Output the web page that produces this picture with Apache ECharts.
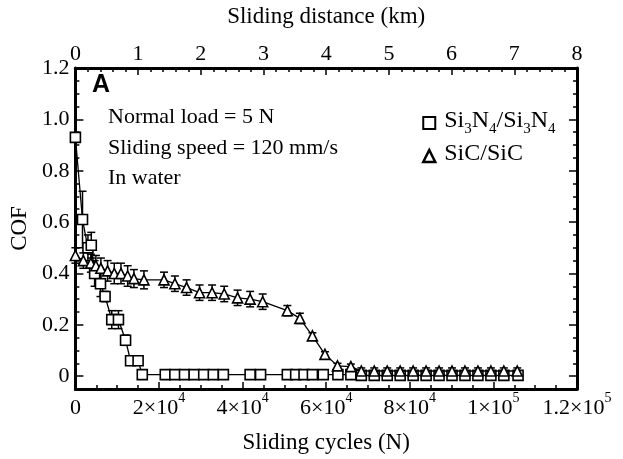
<!DOCTYPE html>
<html><head><meta charset="utf-8">
<script src="https://cdn.jsdelivr.net/npm/echarts@6/dist/echarts.min.js"></script>
<style>html,body{margin:0;padding:0;background:#fff}#c{width:623px;height:459px}</style>
</head><body><div id="c"></div>
<script>
// ---- data ----
const si3n4Cycles = [0, 1700, 3000, 3800, 4600, 6000, 7100, 8700, 10300, 12000, 13200, 15000, 16000,
  21500, 23800, 26100, 28400, 30700, 33000, 35400, 41800, 44300,
  50700, 52700, 54700, 56700, 59300, 62800, 65900,
  68400, 71500, 74600, 77700, 80800, 83900, 87000, 90100, 93200, 96300, 99400, 102500, 105900];
const si3n4Cof = [0.93, 0.61, 0.50, 0.51, 0.40, 0.36, 0.31, 0.22, 0.22, 0.14, 0.06, 0.06, 0.006,
  0.006, 0.006, 0.006, 0.006, 0.006, 0.006, 0.006, 0.006, 0.006,
  0.006, 0.006, 0.006, 0.006, 0.006, 0.006, 0.006,
  0.003, 0.003, 0.003, 0.003, 0.003, 0.003, 0.003, 0.003, 0.003, 0.003, 0.003, 0.003, 0.003];
const si3n4Err = [0.01, 0.11, 0.05, 0.05, 0.05, 0.05, 0.02, 0.035, 0.035, 0.02, 0.012, 0.012, 0.005,
  0, 0, 0, 0, 0, 0, 0, 0, 0,
  0, 0, 0, 0, 0, 0, 0,
  0, 0, 0, 0, 0, 0, 0, 0, 0, 0, 0, 0, 0];

const sicCycles = [0, 1900, 3700, 4900, 6100, 7700, 9300, 10900, 12500, 14000, 16400, 21200,
  23800, 26600, 29700, 32700, 35600, 38800, 41800, 44800, 50700, 53700, 56700, 59700, 62700, 65900,
  68400, 71500, 74600, 77700, 80800, 83900, 87000, 90100, 93200, 96300, 99400, 102500, 105700];
const sicCof = [0.47, 0.45, 0.44, 0.43, 0.42, 0.41, 0.40, 0.40, 0.39, 0.38, 0.375, 0.375,
  0.36, 0.345, 0.325, 0.325, 0.32, 0.305, 0.30, 0.29, 0.255, 0.225, 0.157, 0.085, 0.04, 0.037,
  0.02, 0.02, 0.02, 0.02, 0.02, 0.02, 0.02, 0.02, 0.02, 0.02, 0.02, 0.02, 0.02];
const sicErr = [0.03, 0.03, 0.035, 0.04, 0.04, 0.04, 0.04, 0.04, 0.04, 0.035, 0.035, 0.03,
  0.03, 0.03, 0.03, 0.03, 0.03, 0.03, 0.03, 0.03, 0.02, 0.02, 0.012, 0.01, 0.01, 0.01,
  0.012, 0.012, 0.012, 0.012, 0.012, 0.012, 0.012, 0.012, 0.012, 0.012, 0.012, 0.012, 0.012];

const seriesNames = ['Si3N4/Si3N4', 'SiC/SiC'];
const yTickValues = [0, 0.2, 0.4, 0.6, 0.8, 1.0, 1.2];
const yTickLabels = ['0', '0.2', '0.4', '0.6', '0.8', '1.0', '1.2'];
const xTickValues = [0, 20000, 40000, 60000, 80000, 100000, 120000];
const xTickMant = ['0', '2×10', '4×10', '6×10', '8×10', '1×10', '1.2×10'];
const xTickExp = ['', '4', '4', '4', '4', '5', '5'];
const kmTickLabels = ['0', '1', '2', '3', '4', '5', '6', '7', '8'];
const annotations = ['Normal load = 5 N', 'Sliding speed = 120 mm/s', 'In water'];

// ---- chart ----
const SERIF = '"Liberation Serif", "Times New Roman", serif';
const FS = 22;
const pairs = (xs, ys) => xs.map((x, i) => [x, ys[i]]);
const errRows = (xs, ys, es) => xs.map((x, i) => [x, ys[i] - es[i], ys[i] + es[i], es[i]]);

function renderErr(params, api) {
  if (api.value(3) <= 0) return null;
  const x = api.value(0);
  const lo = api.coord([x, api.value(1)]);
  const hi = api.coord([x, api.value(2)]);
  const cw = 4;
  const style = { stroke: '#000', lineWidth: 1.5 };
  return { type: 'group', children: [
    { type: 'line', shape: { x1: lo[0], y1: lo[1], x2: hi[0], y2: hi[1] }, style },
    { type: 'line', shape: { x1: lo[0] - cw, y1: lo[1], x2: lo[0] + cw, y2: lo[1] }, style },
    { type: 'line', shape: { x1: hi[0] - cw, y1: hi[1], x2: hi[0] + cw, y2: hi[1] }, style }
  ]};
}

const axisLine = { show: true, onZero: false, lineStyle: { color: '#000', width: 3 } };
const noLine = { show: false, onZero: false };
const tickStyle = { color: '#000', width: 1.5 };
const isMultiple = (v, step) => Math.abs(v / step - Math.round(v / step)) < 1e-6;

function subText(name) {
  return '{g|}' + name.split(/(\d)/).filter(p => p).map(p => /^\d$/.test(p) ? '{s|' + p + '}' : '{t|' + p + '}').join('');
}

const chart = echarts.init(document.getElementById('c'));
chart.setOption({
  animation: false,
  backgroundColor: '#fff',
  grid: { left: 72, right: 46, top: 65, bottom: 61 },
  xAxis: [
    {
      type: 'value', position: 'bottom', min: 0, max: 120000, interval: 20000,
      axisLine: axisLine,
      axisTick: { show: true, inside: true, length: 7, lineStyle: tickStyle },
      minorTick: { show: true, splitNumber: 4, length: 4, lineStyle: tickStyle },
      splitLine: { show: false },
      axisLabel: {
        margin: 2,
        formatter: v => {
          const i = xTickValues.findIndex(t => Math.abs(t - v) < 1);
          if (i < 0) return '';
          return '{b|' + xTickMant[i] + '}' + (xTickExp[i] ? '{s|' + xTickExp[i] + '}' : '');
        },
        rich: {
          b: { fontFamily: SERIF, fontSize: FS, color: '#000', lineHeight: 28, verticalAlign: 'bottom' },
          s: { fontFamily: SERIF, fontSize: 14, color: '#000', verticalAlign: 'top', lineHeight: 14 }
        }
      },
      name: 'Sliding cycles (N)', nameLocation: 'middle', nameGap: 42,
      nameTextStyle: { fontFamily: SERIF, fontSize: 23, color: '#000' }
    },
    {
      type: 'value', position: 'top', min: 0, max: 8, interval: 1,
      axisLine: axisLine,
      axisTick: { show: true, inside: true, length: 7, lineStyle: tickStyle },
      minorTick: { show: true, splitNumber: 5, length: 4, lineStyle: tickStyle },
      splitLine: { show: false },
      axisLabel: {
        margin: 3, fontFamily: SERIF, fontSize: FS, color: '#000',
        formatter: v => kmTickLabels[Math.round(v)] ?? ''
      },
      name: 'Sliding distance (km)', nameLocation: 'middle', nameGap: 40,
      nameTextStyle: { fontFamily: SERIF, fontSize: 23, color: '#000' }
    }
  ],
  yAxis: [
    {
      type: 'value', position: 'left', min: -0.05, max: 1.2, interval: 0.05,
      axisLine: axisLine,
      axisTick: { show: true, inside: true, length: 4, lineStyle: tickStyle },
      splitLine: { show: false },
      axisLabel: {
        margin: 6, fontFamily: SERIF, fontSize: FS, color: '#000',
        formatter: v => {
          if (v < -1e-9 || !isMultiple(v, 0.2)) return '';
          return yTickLabels[Math.round(v / 0.2)] ?? '';
        }
      },
      name: 'COF', nameLocation: 'middle', nameGap: 32,
      nameTextStyle: { fontFamily: SERIF, fontSize: 23, color: '#000' }
    },
    {
      type: 'value', position: 'right', min: -0.05, max: 1.2, interval: 0.05,
      axisLine: axisLine,
      axisTick: { show: true, inside: true, length: 4, lineStyle: tickStyle },
      splitLine: { show: false }, axisLabel: { show: false }
    },
    {
      type: 'value', position: 'left', min: -0.05, max: 1.2,
      axisLine: noLine,
      axisTick: { show: true, inside: true, length: 8, lineStyle: tickStyle, customValues: yTickValues },
      splitLine: { show: false }, axisLabel: { show: false }
    },
    {
      type: 'value', position: 'right', min: -0.05, max: 1.2,
      axisLine: noLine,
      axisTick: { show: true, inside: true, length: 8, lineStyle: tickStyle, customValues: yTickValues },
      splitLine: { show: false }, axisLabel: { show: false }
    }
  ],
  legend: {
    left: 417, top: 104, orient: 'vertical', itemGap: 5, itemWidth: 12, itemHeight: 12,
    selectedMode: false,
    data: [
      { name: seriesNames[0], icon: 'rect', itemStyle: { color: '#fff', borderColor: '#000', borderWidth: 2 } },
      { name: seriesNames[1], icon: 'triangle', itemStyle: { color: '#fff', borderColor: '#000', borderWidth: 2.5 } }
    ],
    formatter: name => subText(name),
    textStyle: {
      rich: {
        g: { width: 4 },
        t: { fontFamily: SERIF, fontSize: 24, color: '#000', lineHeight: 28, verticalAlign: 'top' },
        s: { fontFamily: SERIF, fontSize: 15, color: '#000', verticalAlign: 'bottom', lineHeight: 15 }
      }
    }
  },
  graphic: [
    { type: 'text', left: 92, top: 73, style: { text: 'A', font: 'bold 25px "Liberation Sans", Arial, sans-serif', fill: '#000' } },
    { type: 'text', left: 108, top: 106, style: { text: annotations[0], font: FS + 'px ' + SERIF, fill: '#000' } },
    { type: 'text', left: 108, top: 137, style: { text: annotations[1], font: FS + 'px ' + SERIF, fill: '#000' } },
    { type: 'text', left: 108, top: 167, style: { text: annotations[2], font: FS + 'px ' + SERIF, fill: '#000' } }
  ],
  series: [
    {
      type: 'custom', name: 'errA', xAxisIndex: 0, yAxisIndex: 0, renderItem: renderErr,
      encode: { x: 0, y: [1, 2] }, data: errRows(si3n4Cycles, si3n4Cof, si3n4Err), z: 2, silent: true
    },
    {
      type: 'custom', name: 'errB', xAxisIndex: 0, yAxisIndex: 0, renderItem: renderErr,
      encode: { x: 0, y: [1, 2] }, data: errRows(sicCycles, sicCof, sicErr), z: 2, silent: true
    },
    {
      type: 'line', name: seriesNames[0], xAxisIndex: 0, yAxisIndex: 0,
      data: pairs(si3n4Cycles, si3n4Cof), symbol: 'rect', symbolSize: 10, showAllSymbol: true,
      lineStyle: { color: '#000', width: 1.3 },
      itemStyle: { color: '#fff', borderColor: '#000', borderWidth: 1.6 }, z: 3
    },
    {
      type: 'line', name: seriesNames[1], xAxisIndex: 0, yAxisIndex: 0,
      data: pairs(sicCycles, sicCof), symbol: 'triangle', symbolSize: 10, showAllSymbol: true,
      lineStyle: { color: '#000', width: 1.3 },
      itemStyle: { color: '#fff', borderColor: '#000', borderWidth: 1.6 }, z: 4
    }
  ]
});
</script>
</body></html>
